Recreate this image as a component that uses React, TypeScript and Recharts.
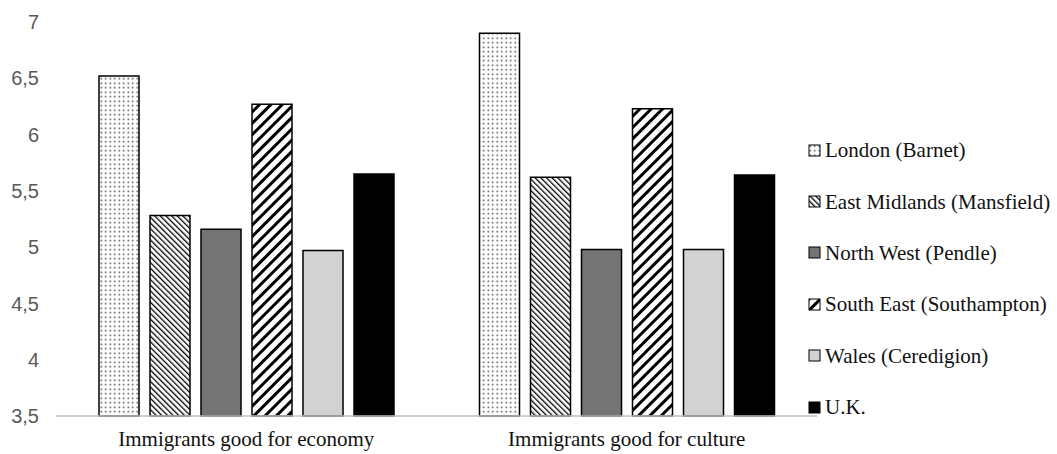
import React from "react";
import { BarChart, Bar, XAxis, YAxis } from "recharts";

const categories = ["Immigrants good for economy", "Immigrants good for culture"];
const london = [6.52, 6.9];
const eastMidlands = [5.28, 5.62];
const northWest = [5.16, 4.98];
const southEast = [6.27, 6.23];
const wales = [4.97, 4.98];
const uk = [5.65, 5.64];
const yTicks = [3.5, 4, 4.5, 5, 5.5, 6, 6.5, 7];

const series = [
  { key: "london", name: "London (Barnet)", values: london, fill: "url(#dots)" },
  { key: "eastMidlands", name: "East Midlands (Mansfield)", values: eastMidlands, fill: "url(#fineHatch)" },
  { key: "northWest", name: "North West (Pendle)", values: northWest, fill: "#747474" },
  { key: "southEast", name: "South East (Southampton)", values: southEast, fill: "url(#wideHatch)" },
  { key: "wales", name: "Wales (Ceredigion)", values: wales, fill: "#d2d2d2" },
  { key: "uk", name: "U.K.", values: uk, fill: "#000000" },
];

const data = categories.map((name, i) => {
  const row: Record<string, string | number> = { name };
  series.forEach((s) => {
    row[s.key] = s.values[i];
  });
  return row;
});

const SERIF = '"Liberation Serif", "DejaVu Serif", serif';
const SANS = '"Liberation Sans", "DejaVu Sans", sans-serif';

// patterns live in their own svg so both the bars and the legend can use them
const Patterns = () => (
  <svg width={0} height={0} style={{ position: "absolute" }}>
    <defs>
      <pattern id="dots" width={4.5} height={4.5} patternUnits="userSpaceOnUse">
        <rect width={4.5} height={4.5} fill="#ffffff" />
        <circle cx={2.25} cy={2.25} r={0.85} fill="#444444" />
      </pattern>
      <pattern
        id="fineHatch"
        width={4}
        height={4}
        patternUnits="userSpaceOnUse"
        patternTransform="rotate(-45)"
      >
        <rect width={4} height={4} fill="#ffffff" />
        <line x1={0} y1={0} x2={0} y2={4} stroke="#000" strokeWidth={2.6} />
      </pattern>
      <pattern
        id="wideHatch"
        width={8}
        height={8}
        patternUnits="userSpaceOnUse"
        patternTransform="rotate(45)"
      >
        <rect width={8} height={8} fill="#ffffff" />
        <line x1={0} y1={0} x2={0} y2={8} stroke="#000" strokeWidth={6} />
      </pattern>
    </defs>
  </svg>
);

const fmt = (v: number) => String(v).replace(".", ",");

export default function App() {
  return (
    <div style={{ position: "absolute", left: 0, top: 0, width: 1057, height: 454, background: "#fff" }}>
      <Patterns />
      <BarChart
        width={1057}
        height={454}
        data={data}
        margin={{ top: 22, right: 240, bottom: 0, left: 0 }}
        barSize={40}
        barGap={11}
      >
        <XAxis
          dataKey="name"
          height={38}
          axisLine={{ stroke: "#c0c0c0", strokeWidth: 1.5 }}
          tickLine={false}
          tick={{ fill: "#111", fontSize: 21, fontFamily: SERIF }}
          tickMargin={9}
        />
        <YAxis
          domain={[3.5, 7]}
          ticks={yTicks}
          width={56}
          axisLine={false}
          tickLine={false}
          tickMargin={11}
          tickFormatter={fmt}
          tick={{ fill: "#595959", fontSize: 20, fontFamily: SANS }}
        />
        {series.map((s) => (
          <Bar
            key={s.key}
            dataKey={s.key}
            name={s.name}
            fill={s.fill}
            stroke="#000"
            strokeWidth={1.5}
            isAnimationActive={false}
          />
        ))}
      </BarChart>
      <div style={{ position: "absolute", left: 808, top: 125, fontFamily: SERIF }}>
        {series.map((s) => (
          <div
            key={s.key}
            style={{ display: "flex", alignItems: "center", height: 51.4, fontSize: 21, color: "#111", whiteSpace: "nowrap" }}
          >
            <svg width={14} height={14} style={{ marginRight: 3 }}>
              <rect x={1} y={1} width={11} height={11} fill={s.fill} stroke="#000" strokeWidth={1} />
            </svg>
            {s.name}
          </div>
        ))}
      </div>
    </div>
  );
}
